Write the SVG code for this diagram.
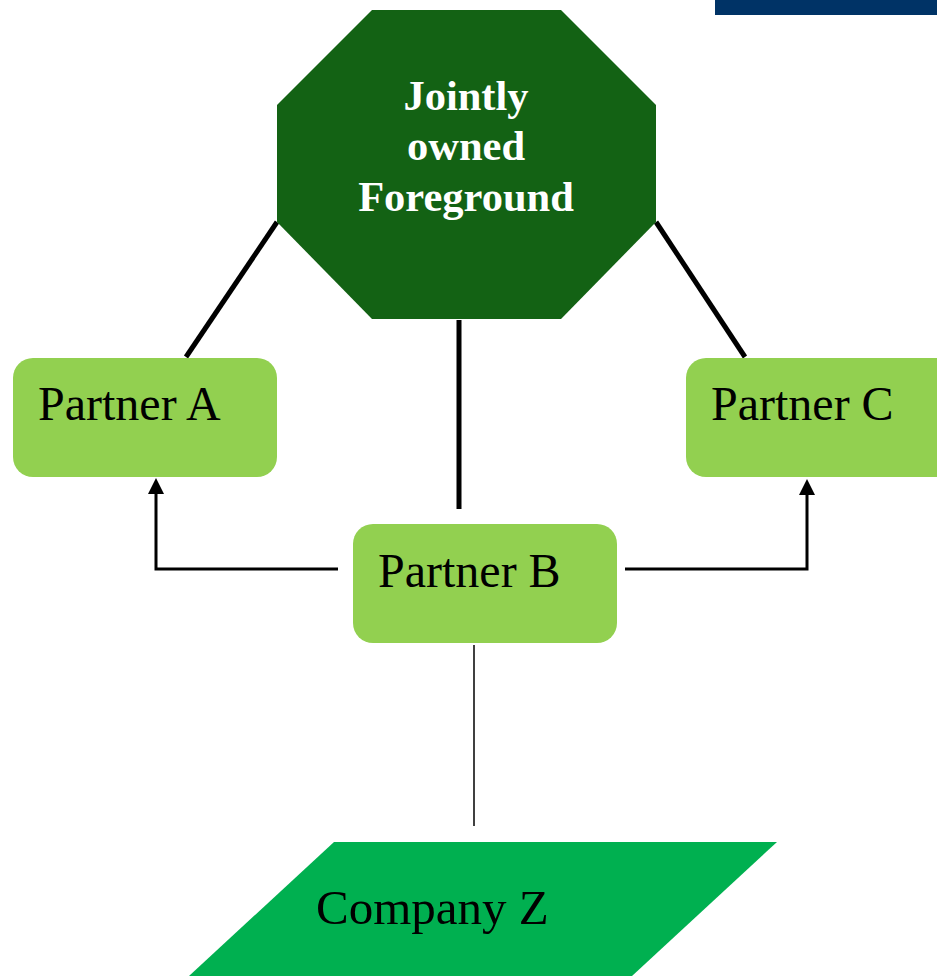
<svg xmlns="http://www.w3.org/2000/svg" width="937" height="976" viewBox="0 0 937 976">
<defs>
<style>
.box{fill:#92D050;}
.lbl{font-family:"Liberation Serif","Times New Roman",serif;font-size:48px;fill:#000;}
.hd{font-family:"Liberation Serif","Times New Roman",serif;font-weight:bold;font-size:42.5px;fill:#fff;}
.thick{stroke:#000;stroke-width:5;fill:none;}
.thin{stroke:#000;stroke-width:3;fill:none;}
</style>
</defs>
<rect width="937" height="976" fill="#fff"/>
<rect id="bar" x="715" y="0" width="222" height="15" fill="#003366"/>
<g id="connectors">
<line class="thick" x1="186" y1="357" x2="277" y2="222"/>
<line class="thick" x1="656" y1="222" x2="745" y2="357"/>
<line class="thick" x1="459" y1="320" x2="459" y2="509"/>
<polyline class="thin" points="338,569 156,569 156,494"/>
<polygon points="156,478 148,494 164,494" fill="#000"/>
<polyline class="thin" points="625,569 807,569 807,494"/>
<polygon points="807,479 799,495 815,495" fill="#000"/>
<line stroke="#000" stroke-width="1.5" x1="474" y1="645" x2="474" y2="826"/>
</g>
<g id="foreground">
<polygon points="372,10 561,10 656,105 656,222 561,319 372,319 277,222 277,105" fill="#136214"/>
<text class="hd" x="466" y="110" text-anchor="middle">Jointly</text>
<text class="hd" x="466" y="160" text-anchor="middle">owned</text>
<text class="hd" x="466" y="211" text-anchor="middle">Foreground</text>
</g>
<g id="partnerA">
<rect class="box" x="13" y="358" width="264" height="119" rx="20"/>
<text class="lbl" x="38" y="420">Partner A</text>
</g>
<g id="partnerC">
<rect class="box" x="686" y="358" width="271" height="119" rx="20"/>
<text class="lbl" x="711" y="420">Partner C</text>
</g>
<g id="partnerB">
<rect class="box" x="353" y="524" width="264" height="119" rx="20"/>
<text class="lbl" x="378" y="587">Partner B</text>
</g>
<g id="companyZ">
<polygon points="334,842 777,842 632,976 189,976" fill="#00B050"/>
<text class="lbl" x="316" y="924" style="font-size:49px">Company Z</text>
</g>
</svg>
